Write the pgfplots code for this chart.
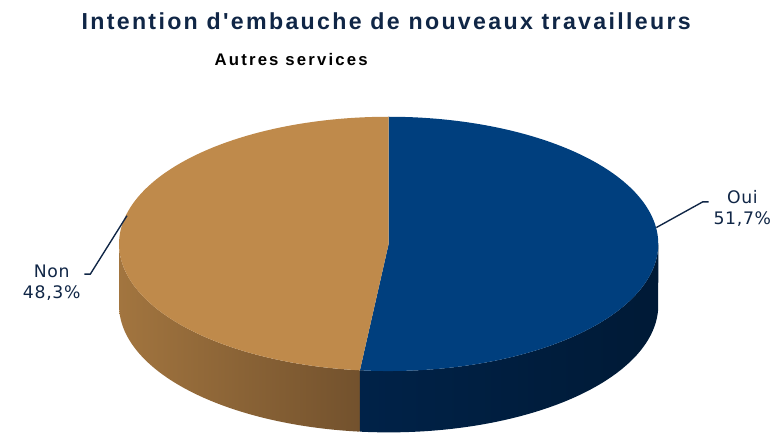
\documentclass[border=0pt]{standalone}
\usepackage{fontspec}
\setmainfont{Liberation Sans}
\newfontfamily\titlefontsp{Liberation Sans}[Ligatures=ResetAll, LetterSpace=10]
\newfontfamily\subfontsp{Liberation Sans}[Ligatures=ResetAll, LetterSpace=13]
\newfontfamily\labfont{DejaVu Sans}[LetterSpace=4]
\usepackage{pgfplots}
\usepackage{pgfplotstable}
\pgfplotsset{compat=1.18}

\definecolor{ouitop}{RGB}{0,63,126}
\definecolor{nontop}{RGB}{191,138,75}
\definecolor{ouisideA}{RGB}{0,34,72}
\definecolor{ouisideB}{RGB}{0,26,54}
\definecolor{nonsideA}{RGB}{162,117,63}
\definecolor{nonsideB}{RGB}{114,81,45}
\definecolor{titlecol}{RGB}{16,38,70}
\definecolor{leadcol}{RGB}{16,38,70}

\pgfplotstableread{
label value
Oui 51.7
Non 48.3
}\piedata

\begin{document}
\pgfplotstablegetelem{0}{value}\of\piedata \let\vOui\pgfplotsretval
\pgfplotstablegetelem{1}{value}\of\piedata \let\vNon\pgfplotsretval
\pgfmathsetmacro\aCut{90-3.6*\vOui}
\pgfmathsetmacro\aNonEnd{\aCut-3.6*\vNon}
\pgfmathsetmacro\aCutOver{\aCut+0.8}
\begin{tikzpicture}
\begin{axis}[
  name=ax,
  scale only axis, width=777bp, height=437bp,
  xmin=0, xmax=777, ymin=0, ymax=437,
  hide axis, clip=false,
  declare function={
    pa(\t,\a,\b)=(\t<1.0001)*(\a+(\b-\a)*\t)+(\t>=1.0001)*(\b+(\a-\b)*(\t-1));
    px(\t,\a,\b)=384.5+272.5*cos(pa(\t,\a,\b));
    py(\t,\a,\b)=190.5+128.5*sin(pa(\t,\a,\b))-62*(\t>=1.0001);
  },
]
% sides (front part)
\addplot[draw=none, left color=nonsideA, right color=nonsideB, domain=0:2, samples=201, variable=\t]
  ({px(\t,-180,\aCutOver)},{py(\t,-180,\aCutOver)}) -- cycle;
\addplot[draw=none, left color=ouisideA, right color=ouisideB, domain=0:2, samples=201, variable=\t]
  ({px(\t,\aCut,0)},{py(\t,\aCut,0)}) -- cycle;
% top faces
\addplot[draw=none, fill=ouitop, domain=\aCut:90, samples=150, variable=\t]
  ({384.5+272.5*cos(\t)},{190.5+128.5*sin(\t)}) -- (axis cs:384.5,190.5) -- cycle;
\addplot[draw=none, fill=nontop, domain=\aNonEnd:\aCut, samples=150, variable=\t]
  ({384.5+272.5*cos(\t)},{190.5+128.5*sin(\t)}) -- (axis cs:384.5,190.5) -- cycle;
% leader lines
\addplot[leadcol, line width=1.4pt, mark=none] coordinates {(655,207) (702,233) (708,233)};
\addplot[leadcol, line width=1.4pt, mark=none] coordinates {(120,219) (83,160) (77,160)};
% labels
\node[font=\labfont\fontsize{17.5}{21}\selectfont, color=titlecol, align=center] at (axis cs:742,226) {Oui\\51,7\%};
\node[font=\labfont\fontsize{17.5}{21}\selectfont, color=titlecol, align=center] at (axis cs:44,151) {Non\\48,3\%};
% titles
\node[font=\titlefontsp\bfseries\fontsize{23.5}{28}\selectfont, color=titlecol] at (axis cs:382,416) {Intention d'embauche de nouveaux travailleurs};
\node[font=\subfontsp\bfseries\fontsize{17}{20}\selectfont, color=black] at (axis cs:286,377) {Autres services};
\end{axis}
\pgfresetboundingbox
\path (ax.south west) rectangle (ax.north east);
\end{tikzpicture}
\end{document}
